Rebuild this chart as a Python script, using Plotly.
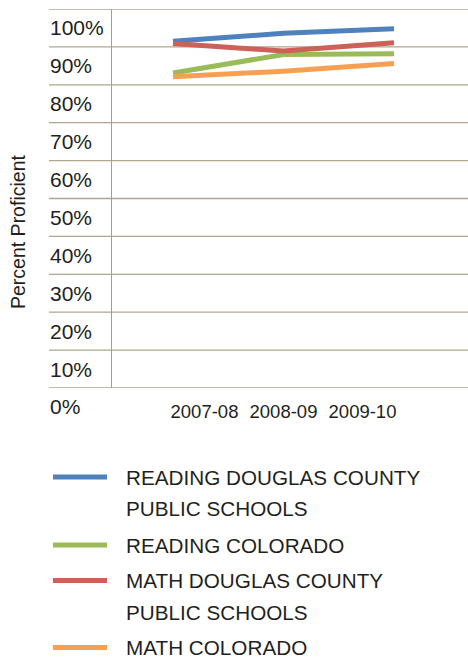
import plotly.graph_objects as go

# ---- data ----
years = ["2007-08", "2008-09", "2009-10"]
reading_dcps = [91.5, 93.6, 94.8]
reading_co = [83.1, 88.0, 88.2]
math_dcps = [90.9, 88.9, 91.1]
math_co = [82.1, 83.6, 85.6]
y_ticks = [0, 10, 20, 30, 40, 50, 60, 70, 80, 90, 100]
series_names = [
    ["READING DOUGLAS COUNTY", "PUBLIC SCHOOLS"],
    ["READING COLORADO"],
    ["MATH DOUGLAS COUNTY", "PUBLIC SCHOOLS"],
    ["MATH COLORADO"],
]
series_values = [reading_dcps, reading_co, math_dcps, math_co]
colors = ["#4F81BD", "#9BBB59", "#CC6158", "#F9A050"]

# ---- layout geometry (pixels) ----
W, H = 468, 658
L, R, T, B = 112, 0, 9, 270
plot_w = W - L - R
plot_h = H - T - B
FONT = "Liberation Sans, Arial, sans-serif"
TXT = "#231F20"
GRID = "#B1A590"


def px_x(px):
    return (px - L) / plot_w


def px_y(py):
    return (H - B - py) / plot_h


def val_y(v):
    return v / 100.0


xs = list(range(len(years)))

fig = go.Figure()
for name, vals, col in zip(series_names, series_values, colors):
    fig.add_trace(go.Scatter(
        x=xs, y=vals, mode="lines", name=" ".join(name),
        line=dict(color=col, width=5), showlegend=False, hoverinfo="skip",
    ))

shapes = []
annotations = []
# horizontal gridlines extending under the labels
for v in y_ticks:
    shapes.append(dict(type="line", xref="paper", yref="y",
                       x0=px_x(49), x1=1, y0=v, y1=v,
                       line=dict(color=GRID, width=1.3), layer="below"))
    # labels sit half a step below their gridline, as in the original
    annotations.append(dict(xref="paper", yref="paper", x=px_x(48),
                            y=val_y(v - 5),
                            text=f"{v}%", showarrow=False, xanchor="left",
                            yanchor="middle",
                            font=dict(family=FONT, size=21, color=TXT)))

# y-axis title
annotations.append(dict(xref="paper", yref="paper", x=px_x(18), y=px_y(232),
                        text="Percent Proficient", textangle=-90,
                        showarrow=False, xanchor="center", yanchor="middle",
                        font=dict(family=FONT, size=19.5, color=TXT)))

# manual legend
legend_rows = [[477, 508], [545], [580.5, 612], [647.5]]
for rows, name, col in zip(legend_rows, series_names, colors):
    shapes.append(dict(type="line", xref="paper", yref="paper",
                       x0=px_x(53), x1=px_x(107), y0=px_y(rows[0]), y1=px_y(rows[0]),
                       line=dict(color=col, width=5)))
    for ry, line_txt in zip(rows, name):
        annotations.append(dict(xref="paper", yref="paper", x=px_x(124), y=px_y(ry),
                                text=line_txt, showarrow=False, xanchor="left",
                                yanchor="middle",
                                font=dict(family=FONT, size=20.7, color=TXT)))

# x range so points land at reference positions
step_px = 110.5
x0_px = 173
r0 = -(x0_px - L) / step_px
r1 = r0 + plot_w / step_px
mid = (len(years) - 1) / 2
label_step = 0.715
tickvals = [mid + (i - mid) * label_step for i in xs]

fig.update_layout(
    width=W, height=H, autosize=False,
    margin=dict(l=L, r=R, t=T, b=B, pad=0),
    paper_bgcolor="white", plot_bgcolor="white",
    shapes=shapes, annotations=annotations,
    xaxis=dict(range=[r0, r1], showgrid=False, zeroline=False, showline=False,
               tickvals=tickvals, ticktext=years, ticks="",
               ticklabelstandoff=10,
               tickfont=dict(family=FONT, size=18.5, color=TXT), fixedrange=True),
    yaxis=dict(range=[0, 100], showgrid=False, zeroline=False, showticklabels=False,
               showline=True, linecolor="#A89C88", linewidth=1, ticks="",
               fixedrange=True),
    showlegend=False,
)

fig.write_html("out.html", config={"displayModeBar": False},
               post_script="document.body.style.margin='0';")
